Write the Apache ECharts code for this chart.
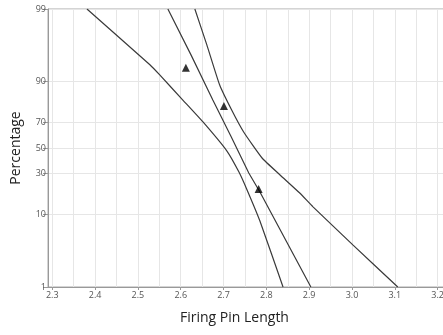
<!DOCTYPE html>
<html>
<head>
<meta charset="utf-8">
<script src="https://cdn.jsdelivr.net/npm/echarts@6/dist/echarts.min.js"></script>
<style>
html,body{margin:0;padding:0;background:#fff;}
#chart{width:443px;height:335px;}
</style>
</head>
<body>
<div id="chart"></div>
<script>
// ---- data ----
const xLabels = [2.3, 2.4, 2.5, 2.6, 2.7, 2.8, 2.9, 3.0, 3.1, 3.2];
const xGrid = [2.3, 2.35, 2.4, 2.45, 2.5, 2.55, 2.6, 2.65, 2.7, 2.75, 2.8, 2.85, 2.9, 2.95, 3.0, 3.05, 3.1, 3.15, 3.2];
const yTicks = [1, 10, 30, 50, 70, 90, 99];

// observed points (Firing Pin Length, Percentage)
const pointX = [2.612, 2.701, 2.782];
const pointPct = [93.4, 80.0, 20.5];

// fitted line
const fitX = [2.570, 2.624, 2.675, 2.717, 2.759, 2.785, 2.904];
const fitPct = [99, 95.6, 83.0, 59.8, 30.4, 18.9, 1];

// lower (left) confidence bound
const lowerX = [2.381, 2.528, 2.551, 2.605, 2.652, 2.708, 2.736, 2.754, 2.785, 2.839];
const lowerPct = [99, 94.0, 91.8, 83.0, 70.3, 47.5, 31.1, 20.5, 8.2, 1];

// upper (right) confidence bound
const upperX = [2.633, 2.661, 2.691, 2.719, 2.747, 2.790, 2.832, 2.878, 2.909, 3.002, 3.107];
const upperPct = [99, 96.8, 88.9, 77.8, 62.9, 41.8, 29.1, 18.4, 12.5, 3.9, 1];

// ---- probability (logistic) scale helpers ----
const logit = p => Math.log(p / (100 - p));
const invLogit = v => 100 / (1 + Math.exp(-v));
const toPairs = (xs, ps) => xs.map((x, i) => [x, logit(ps[i])]);

const lineStyle = { color: '#3a3a3a', width: 1.2 };
const labelFont = { fontFamily: 'Open Sans', fontSize: 9, color: '#555' };

const chart = echarts.init(document.getElementById('chart'), null, { renderer: 'canvas' });
chart.setOption({
  animation: false,
  backgroundColor: '#fff',
  grid: { left: 48, top: 9, width: 411, height: 278, outerBoundsMode: 'none', containLabel: false,
          show: true, borderColor: '#a8a8a8', borderWidth: 1, backgroundColor: 'transparent' },
  xAxis: [
    {
      type: 'value', min: 2.29, max: 3.25,
      axisLine: { show: true, onZero: false, lineStyle: { color: '#999' } },
      axisTick: { show: true, length: 3, lineStyle: { color: '#999' }, customValues: xLabels },
      axisLabel: Object.assign({ margin: 4, customValues: xLabels, formatter: v => v.toFixed(1) }, labelFont),
      splitLine: { show: false }
    },
    {
      type: 'value', min: 2.29, max: 3.25, position: 'bottom',
      axisLine: { show: false, onZero: false },
      axisTick: { show: false, customValues: xGrid },
      axisLabel: { show: false },
      splitLine: { show: true, lineStyle: { color: '#e6e6e6', width: 1 } }
    }
  ],
  yAxis: {
    type: 'value', min: logit(1), max: logit(99),
    name: 'Percentage', nameLocation: 'middle', nameGap: 25,
    nameTextStyle: { fontFamily: 'Open Sans', fontSize: 14, color: '#222' },
    axisLine: { show: true, onZero: false, lineStyle: { color: '#999' } },
    axisTick: { show: true, length: 5, lineStyle: { color: '#999' }, customValues: yTicks.map(logit) },
    axisLabel: Object.assign({ margin: 2, customValues: yTicks.map(logit), formatter: v => String(Math.round(invLogit(v))) }, labelFont),
    splitLine: { show: true, lineStyle: { color: '#e6e6e6', width: 1 } }
  },
  graphic: [{
    type: 'text', left: 180, top: 311,
    style: { text: 'Firing Pin Length', font: '14px "Open Sans"', fill: '#222' }
  }],
  series: [
    { type: 'line', data: toPairs(lowerX, lowerPct), showSymbol: false, lineStyle: lineStyle, smooth: 0.15, z: 3 },
    { type: 'line', data: toPairs(fitX, fitPct), showSymbol: false, lineStyle: lineStyle, z: 3 },
    { type: 'line', data: toPairs(upperX, upperPct), showSymbol: false, lineStyle: lineStyle, smooth: 0.15, z: 3 },
    { type: 'scatter', data: toPairs(pointX, pointPct), symbol: 'triangle', symbolSize: 8, itemStyle: { color: '#000' }, z: 4 }
  ]
});
</script>
</body>
</html>
